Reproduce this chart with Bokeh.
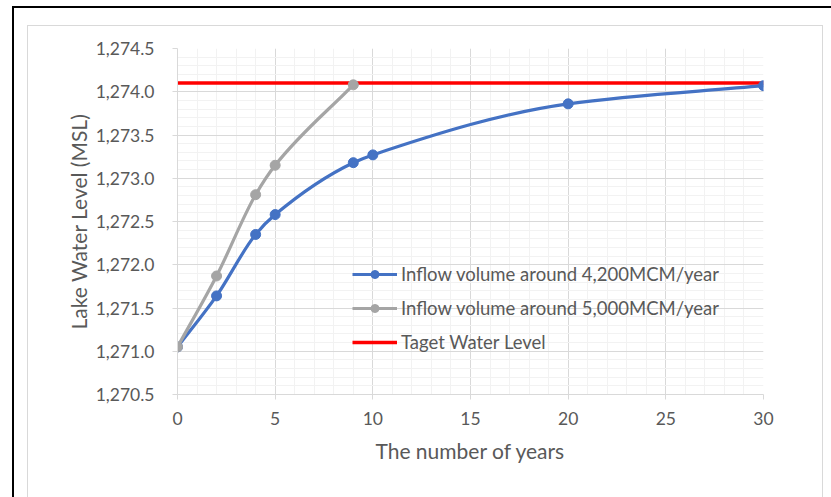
import numpy as np
from bokeh.plotting import figure
from bokeh.models import (Range1d, SingleIntervalTicker, NumeralTickFormatter,
                          Legend, LegendItem, ColumnDataSource)
from bokeh.embed import file_html
from bokeh.resources import INLINE

# ---- data ----
years_4200 = [0, 2, 4, 5, 9, 10, 20, 30]
level_4200 = [1271.05, 1271.64, 1272.35, 1272.58, 1273.18, 1273.27, 1273.86, 1274.07]
years_5000 = [0, 2, 4, 5, 9]
level_5000 = [1271.05, 1271.87, 1272.81, 1273.15, 1274.08]
target_years = [0, 30]
target_level = [1274.1, 1274.1]

label_4200 = "Inflow volume around 4,200MCM/year"
label_5000 = "Inflow volume around 5,000MCM/year"
label_target = "Taget Water Level"

BLUE = "#4472C4"
GRAY = "#A5A5A5"
RED = "#FF0000"
TXT = "#595959"
FONT = "Lato"

W, H = 831, 497
p = figure(width=W, height=H, output_backend="svg", toolbar_location=None,
           x_range=Range1d(0, 30), y_range=Range1d(1270.5, 1274.5),
           min_border_left=177, min_border_right=68, min_border_top=48,
           min_border_bottom=103)
p.outline_line_color = None
p.background_fill_color = "white"
p.border_fill_color = None

# page frame (outer black border + light chart-area border), drawn behind canvas
frame_css = ", ".join([
    "linear-gradient(#000,#000) 12px 6px / 819px 2px no-repeat",
    "linear-gradient(#000,#000) 12px 6px / 2px 491px no-repeat",
    "linear-gradient(#D9D9D9,#D9D9D9) 27px 25px / 796px 1px no-repeat",
    "linear-gradient(#D9D9D9,#D9D9D9) 27px 25px / 1px 472px no-repeat",
    "linear-gradient(#D9D9D9,#D9D9D9) 822px 25px / 1px 472px no-repeat",
    "#ffffff",
])
p.styles = {"background": frame_css}

# axes
p.xaxis.ticker = SingleIntervalTicker(interval=5, num_minor_ticks=5)
p.yaxis.ticker = SingleIntervalTicker(interval=0.5, num_minor_ticks=5)
p.yaxis.formatter = NumeralTickFormatter(format="0,0.0")
for ax in (p.xaxis, p.yaxis):
    ax.axis_line_color = "#D9D9D9"
    ax.major_tick_line_color = "#D9D9D9"
    ax.major_tick_out = 5
    ax.major_tick_in = 0
    ax.minor_tick_line_color = None
    ax.major_label_text_font = FONT
    ax.major_label_text_font_size = "17.5px"
    ax.major_label_text_color = TXT
    ax.axis_label_text_font = FONT
    ax.axis_label_text_font_size = "21px"
    ax.axis_label_text_font_style = "normal"
    ax.axis_label_text_color = TXT
p.yaxis.major_label_standoff = 18
p.xaxis.major_label_standoff = 12
p.xaxis.axis_label = "The number of years"
p.yaxis.axis_label = "Lake Water Level (MSL)"
p.xaxis.axis_label_standoff = 10
p.yaxis.axis_label_standoff = 2

# grids
for g in (p.xgrid, p.ygrid):
    g.grid_line_color = "#D9D9D9"
    g.grid_line_width = 1
    g.minor_grid_line_color = "#F2F2F2"
    g.minor_grid_line_width = 1


def smooth(xs, ys):
    """Bezier control points (monotone cubic tangents) for a smoothed line."""
    x = np.asarray(xs, float)
    y = np.asarray(ys, float)
    n = len(x)
    d = np.diff(y) / np.diff(x)
    m = np.zeros(n)
    m[0] = d[0]
    m[-1] = d[-1]
    for i in range(1, n - 1):
        if d[i - 1] * d[i] <= 0:
            m[i] = 0
        else:
            h0, h1 = x[i] - x[i - 1], x[i + 1] - x[i]
            w1, w2 = 2 * h1 + h0, h1 + 2 * h0
            m[i] = (w1 + w2) / (w1 / d[i - 1] + w2 / d[i])
    h = np.diff(x)
    return dict(x0=x[:-1], y0=y[:-1], x1=x[1:], y1=y[1:],
                cx0=x[:-1] + h / 3, cy0=y[:-1] + m[:-1] * h / 3,
                cx1=x[1:] - h / 3, cy1=y[1:] - m[1:] * h / 3)


r_t = p.line(target_years, target_level, line_color=RED, line_width=3.5)

b_curve = p.bezier(source=ColumnDataSource(smooth(years_4200, level_4200)),
                   x0="x0", y0="y0", x1="x1", y1="y1", cx0="cx0", cy0="cy0",
                   cx1="cx1", cy1="cy1", line_color=BLUE, line_width=3.2)
b_pts = p.scatter(years_4200, level_4200, size=10, fill_color=BLUE, line_color=BLUE)
g_curve = p.bezier(source=ColumnDataSource(smooth(years_5000, level_5000)),
                   x0="x0", y0="y0", x1="x1", y1="y1", cx0="cx0", cy0="cy0",
                   cx1="cx1", cy1="cy1", line_color=GRAY, line_width=3.2)
g_pts = p.scatter(years_5000, level_5000, size=10, fill_color=GRAY, line_color=GRAY)

# legend proxies (not drawn in plot area)
lb = p.line([np.nan], [np.nan], line_color=BLUE, line_width=3.2)
sb = p.scatter([np.nan], [np.nan], size=9, fill_color=BLUE, line_color=BLUE)
lg = p.line([np.nan], [np.nan], line_color=GRAY, line_width=3.2)
sg = p.scatter([np.nan], [np.nan], size=9, fill_color=GRAY, line_color=GRAY)
lr = p.line([np.nan], [np.nan], line_color=RED, line_width=3.5)

legend = Legend(items=[LegendItem(label=label_4200, renderers=[lb, sb]),
                       LegendItem(label=label_5000, renderers=[lg, sg]),
                       LegendItem(label=label_target, renderers=[lr])],
                location=(175, 41), orientation="vertical")
legend.background_fill_alpha = 0
legend.border_line_color = None
legend.padding = 0
legend.margin = 0
legend.spacing = 12
legend.glyph_width = 45
legend.glyph_height = 20
legend.label_height = 20
legend.label_standoff = 4
legend.label_text_font = FONT
legend.label_text_font_size = "18.5px"
legend.label_text_color = TXT
p.add_layout(legend, "center")

open("out.html", "w").write(file_html(p, INLINE))
